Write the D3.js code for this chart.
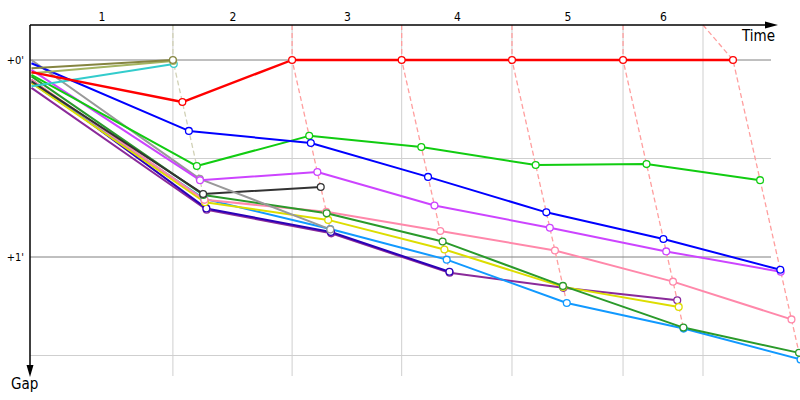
<!DOCTYPE html>
<html>
<head>
<meta charset="utf-8">
<script src="https://cdn.jsdelivr.net/npm/d3@7"></script>
<style>
  body { margin: 0; background: #fff; }
  svg { display: block; }
</style>
</head>
<body>
<svg width="800" height="400"></svg>
<script>
// laps and times (seconds since start)
var lapLabels   = ["1", "2", "3", "4", "5", "6"];
var gridTimes   = [0, 193, 354, 502, 651, 801, 909];     // lap boundaries on the time axis
var leaderTimes = [193, 354, 502, 651, 801, 949.5];      // leader crossing time for each lap
var startTime   = 2;

// gap ticks (seconds)
var gapTicks  = [0, 60];
var gapLabels = ["+0'", "+1'"];
var gapMinor  = [30, 90];

// gap to the leader for every driver: start, then lap 1..6 (null = out)
var gapPurple    = [8.5, 45.6, 52.8, 64.8, 69.4, 73.2, null];
var gapNavy      = [6.0, 45.2, 52.4, 64.5, null, null, null];
var gapSky       = [7.0, 42.3, 51.5, 60.8, 74.0, 81.8, 91.2];
var gapYellow    = [7.0, 43.3, 48.7, 57.7, 69.1, 75.2, null];
var gapPink      = [6.0, 42.6, 46.2, 52.1, 58.0, 67.5, 79.0];
var gapDarkGreen = [5.0, 41.1, 46.7, 55.3, 68.8, 81.5, 89.2];
var gapBlack     = [6.5, 40.8, 38.7, null, null, null, null];
var gapGray      = [0.0, 36.2, 51.6, null, null, null, null];
var gapMagenta   = [3.0, 36.6, 34.1, 44.3, 51.1, 58.3, 64.5];
var gapGreen     = [4.5, 32.3, 23.1, 26.5, 32.0, 31.7, 36.6];
var gapBlue      = [1.0, 21.6, 25.3, 35.6, 46.4, 54.5, 63.9];
var gapCyan      = [8.0, 1.2, null, null, null, null, null];
var gapKhaki     = [4.0, 0.3, null, null, null, null, null];
var gapOlive     = [2.5, 0.0, null, null, null, null, null];
var gapRed       = [3.7, 12.8, 0, 0, 0, 0, 0];

var drivers = [
  { name: "purple",    color: "#8a2a9a", gaps: gapPurple },
  { name: "navy",      color: "#2a00b8", gaps: gapNavy },
  { name: "sky",       color: "#1199ff", gaps: gapSky },
  { name: "yellow",    color: "#dddd00", gaps: gapYellow },
  { name: "pink",      color: "#ff88aa", gaps: gapPink },
  { name: "darkGreen", color: "#2a9a2a", gaps: gapDarkGreen },
  { name: "black",     color: "#333333", gaps: gapBlack },
  { name: "gray",      color: "#999999", gaps: gapGray },
  { name: "magenta",   color: "#cc44ff", gaps: gapMagenta },
  { name: "green",     color: "#11cc11", gaps: gapGreen },
  { name: "blue",      color: "#0000ff", gaps: gapBlue },
  { name: "cyan",      color: "#33cccc", gaps: gapCyan },
  { name: "khaki",     color: "#a4b460", gaps: gapKhaki },
  { name: "olive",     color: "#858540", gaps: gapOlive },
  { name: "red",       color: "#ff0000", gaps: gapRed }
];

var svg = d3.select("svg"),
    axisLeftX = 30, axisTopY = 25, gridRight = 771, gridBottom = 376;

var xScale = d3.scaleLinear().domain([0, 1040]).range([30, 800]),
    yScale = d3.scaleLinear().domain([0, 60]).range([60, 257]);

var font = "'DejaVu Sans Condensed', 'DejaVu Sans', sans-serif";

// point of a driver at step i (0 = start)
function pt(d, i) {
  var g = d.gaps[i];
  var t = i == 0 ? startTime : leaderTimes[i - 1] + g;
  return [xScale(t), yScale(g)];
}

// grid
svg.append("g").selectAll("line")
  .data(gridTimes.slice(1))
  .enter().append("line")
  .attr("x1", function(d) { return xScale(d); })
  .attr("x2", function(d) { return xScale(d); })
  .attr("y1", axisTopY).attr("y2", gridBottom)
  .attr("stroke", "#cfcfcf").attr("stroke-width", 1);

svg.append("g").selectAll("line")
  .data(gapMinor)
  .enter().append("line")
  .attr("x1", axisLeftX).attr("x2", gridRight)
  .attr("y1", function(d) { return yScale(d); })
  .attr("y2", function(d) { return yScale(d); })
  .attr("stroke", "#cfcfcf").attr("stroke-width", 1);

svg.append("g").selectAll("line")
  .data(gapTicks)
  .enter().append("line")
  .attr("x1", axisLeftX).attr("x2", gridRight)
  .attr("y1", function(d) { return yScale(d); })
  .attr("y2", function(d) { return yScale(d); })
  .attr("stroke", "#808080").attr("stroke-width", 1);

// dashed lap lines, coloured after the lap leader
var lapLine = d3.line();
leaderTimes.forEach(function(lt, k) {
  var lap = k + 1;
  var pts = drivers.filter(function(d) { return d.gaps[lap] != null; })
                   .sort(function(a, b) { return a.gaps[lap] - b.gaps[lap]; });
  var leader = pts[0];
  var coords = [[xScale(gridTimes[lap]), axisTopY]].concat(pts.map(function(d) { return pt(d, lap); }));
  svg.append("path")
    .attr("d", lapLine(coords))
    .attr("fill", "none")
    .attr("stroke", d3.interpolateRgb(leader.color, "#fff")(0.62))
    .attr("stroke-width", 1.3)
    .attr("stroke-dasharray", "5,3");
});

// driver lines
var line = d3.line();
drivers.forEach(function(d) {
  var coords = [];
  d.gaps.forEach(function(g, i) { if (g != null) coords.push(pt(d, i)); });
  svg.append("path")
    .attr("d", line(coords))
    .attr("fill", "none")
    .attr("stroke", d.color)
    .attr("stroke-width", d.name == "red" ? 2.4 : 2)
    .attr("stroke-linejoin", "round");
});

// lap markers
drivers.forEach(function(d) {
  var idx = d3.range(1, d.gaps.length).filter(function(i) { return d.gaps[i] != null; });
  svg.append("g").selectAll("circle")
    .data(idx)
    .enter().append("circle")
    .attr("cx", function(i) { return pt(d, i)[0]; })
    .attr("cy", function(i) { return pt(d, i)[1]; })
    .attr("r", 3.4)
    .attr("fill", "#fff")
    .attr("stroke", d.color)
    .attr("stroke-width", 1.3);
});

// lap labels on top axis
var mids = lapLabels.map(function(l, i) { return (gridTimes[i] + gridTimes[i + 1]) / 2; });
var topAxis = svg.append("g")
  .attr("transform", "translate(0," + axisTopY + ")")
  .call(d3.axisTop(xScale).tickValues(mids).tickSize(0).tickPadding(4)
        .tickFormat(function(d, i) { return lapLabels[i]; }));
topAxis.select(".domain").remove();
topAxis.selectAll("text").attr("font-size", "12px").attr("font-family", font).attr("fill", "#000");

// gap labels on left axis
var leftAxis = svg.append("g")
  .attr("transform", "translate(" + axisLeftX + ",0)")
  .call(d3.axisLeft(yScale).tickValues(gapTicks).tickSize(0).tickPadding(6)
        .tickFormat(function(d, i) { return gapLabels[i]; }));
leftAxis.select(".domain").remove();
leftAxis.selectAll("text").attr("font-size", "11px").attr("font-family", font).attr("fill", "#000");

// axis arrows
svg.append("line").attr("x1", axisLeftX).attr("x2", 766).attr("y1", axisTopY).attr("y2", axisTopY)
  .attr("stroke", "#000").attr("stroke-width", 1.5);
svg.append("path").attr("d", "M765,21.5L778,25L765,28.5Z").attr("fill", "#000");
svg.append("line").attr("x1", axisLeftX).attr("x2", axisLeftX).attr("y1", axisTopY).attr("y2", 366)
  .attr("stroke", "#000").attr("stroke-width", 1.5);
svg.append("path").attr("d", "M26.5,365L30,377L33.5,365Z").attr("fill", "#000");

svg.append("text").attr("x", 742).attr("y", 41)
  .attr("font-size", "15px").attr("font-family", font).text("Time");
svg.append("text").attr("x", 11).attr("y", 389)
  .attr("font-size", "15px").attr("font-family", font).text("Gap");
</script>
</body>
</html>
